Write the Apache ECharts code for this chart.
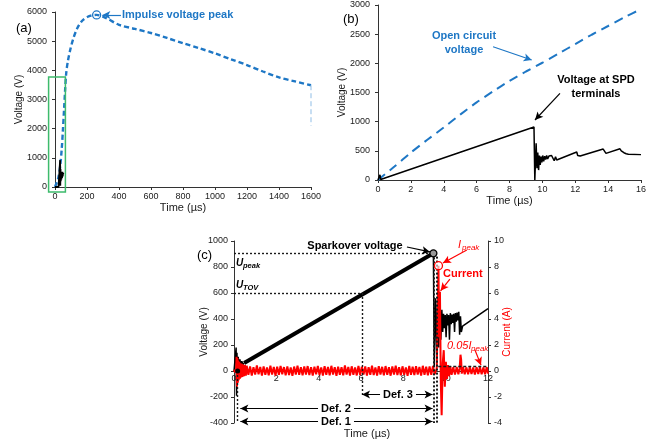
<!DOCTYPE html>
<html>
<head>
<meta charset="utf-8">
<script src="https://cdn.jsdelivr.net/npm/echarts@6/dist/echarts.min.js"></script>
<style>
  html, body { margin: 0; padding: 0; background: #ffffff; }
  #chart { width: 655px; height: 444px; }
</style>
</head>
<body>
<div id="chart"></div>
<script>
// ---------- (a) full impulse, 0-1600 µs ----------
const impulseTimeAxis = [0, 1600, 200];
const impulseVoltAxis = [0, 6000, 1000];
const impulseOpenCircuit = [
  [0, 0], [20, 300], [32, 700], [42, 1300], [50, 2000], [57, 2700], [63, 3300],
  [70, 3900], [80, 4300], [95, 4700], [115, 5100], [140, 5450], [170, 5700],
  [210, 5850], [260, 5900], [320, 5790], [400, 5560], [500, 5420], [600, 5280],
  [700, 5110], [800, 4930], [900, 4760], [1000, 4580], [1100, 4380], [1200, 4180],
  [1300, 3960], [1400, 3760], [1500, 3620], [1600, 3490]
];
const impulseTail = [[1600, 3490], [1600, 2100]];
const impulseSpd = [
  [0, 0], [22, 0], [32, 920], [33, 40], [34.5, 620], [36, 200], [38, 520], [40, 260],
  [42, 500], [44, 310], [46, 520], [48, 360], [50, 470], [54, 440]
];
const impulsePeak = [260, 5900];
const zoomBox = [[-40, 3770], [65, -170]];

// ---------- (b) wave front, 0-16 µs ----------
const frontTimeAxis = [0, 16, 2];
const frontVoltAxis = [0, 3000, 500];
const frontOpenCircuit = [
  [0, 0], [1, 230], [2, 470], [3, 690], [4, 900], [5, 1120], [6, 1330], [7, 1520],
  [8, 1700], [9, 1860], [10, 2010], [11, 2170], [12, 2330], [13, 2490], [14, 2640],
  [15, 2790], [16, 2930]
];
const frontSpd = [
  [0, 0], [0.08, 0], [0.12, 90], [0.16, 10], [0.2, 40], [9.49, 910], [9.52, 900],
  [9.54, 0], [9.62, 630], [9.67, 200], [9.72, 470], [9.77, 170], [9.82, 420],
  [9.87, 260], [9.92, 400], [9.97, 300], [10.02, 420], [10.08, 320], [10.14, 410],
  [10.2, 350], [10.26, 420], [10.32, 360], [10.4, 410], [10.48, 380], [10.56, 420],
  [10.64, 400], [10.72, 330], [10.8, 400], [10.87, 343], [12.09, 480], [12.15, 420],
  [12.25, 390], [12.3, 410], [13.7, 530], [13.78, 500], [13.87, 457], [14.72, 535],
  [14.8, 500], [14.96, 468], [15.1, 450], [15.23, 440], [16, 435]
];

// ---------- (c) sparkover detail, 0-12 µs ----------
const sparkTimeAxis = [0, 12, 2];
const sparkVoltAxis = [-400, 1000, 200];
const sparkAmpAxis = [-4, 10, 2];
const sparkVoltageFront = [
  [0, 0], [0.08, 0], [0.1, 180], [0.12, -190], [0.14, 140], [0.17, -80], [0.2, 110],
  [0.24, 20], [0.28, 90], [0.32, 40], [0.37, 75], [0.42, 50], [0.48, 62]
];
const sparkVoltageRamp = [[0.48, 62], [9.42, 905]];
const sparkVoltageAfter = [
  [9.42, 905], [9.46, 30], [9.52, 560], [9.58, 120], [9.63, 610], [9.67, 180],
  [9.72, 520], [9.77, 240], [9.82, 470], [9.86, 300], [9.9, 440], [9.94, 330],
  [9.98, 430], [10.02, 260], [10.06, 440], [10.1, 350], [10.14, 430], [10.18, 240],
  [10.22, 445], [10.26, 360], [10.3, 435], [10.34, 370], [10.38, 440], [10.42, 300],
  [10.46, 445], [10.5, 380], [10.54, 450], [10.58, 390], [10.62, 455], [10.66, 280],
  [10.7, 420], [10.74, 300], [10.8, 345], [12, 480]
];
const sparkCurrent = [
  [0, 0.1], [0.05, -0.1], [0.1, 0.2], [0.12, 1.1], [0.14, -1.2], [0.16, 1.0], [0.18, -0.9],
  [0.2, 0.8], [0.22, -0.7], [0.25, 0.7], [0.28, -0.6], [0.31, 0.6], [0.34, -0.5],
  [0.37, 0.55], [0.4, -0.45], [0.44, 0.5], [0.48, -0.4], [0.52, 0.45], [0.56, -0.35],
  [0.6, 0.4], [0.68, -0.3], [0.76, 0.35], [0.84, -0.36], [0.92, 0.3], [1.0, -0.28],
  [1.08, 0.42], [1.16, -0.26], [1.24, 0.31], [1.32, -0.35], [1.4, 0.36], [1.48, -0.3],
  [1.56, 0.27], [1.64, -0.33], [1.72, 0.4], [1.8, -0.28], [1.88, 0.31], [1.96, -0.36],
  [2.04, 0.33], [2.12, -0.29], [2.2, 0.38], [2.28, -0.25], [2.36, 0.3], [2.44, -0.34],
  [2.52, 0.36], [2.6, -0.31], [2.68, 0.27], [2.76, -0.37], [2.84, 0.34], [2.92, -0.28],
  [3.0, 0.41], [3.08, -0.3], [3.16, 0.29], [3.24, -0.33], [3.32, 0.35], [3.4, -0.27],
  [3.48, 0.38], [3.56, -0.32], [3.64, 0.3], [3.72, -0.36], [3.8, 0.33], [3.88, -0.26],
  [3.96, 0.39], [4.04, -0.31], [4.12, 0.28], [4.2, -0.35], [4.28, 0.37], [4.36, -0.29],
  [4.44, 0.32], [4.52, -0.34], [4.6, 0.4], [4.68, -0.27], [4.76, 0.3], [4.84, -0.37],
  [4.92, 0.34], [5.0, -0.3], [5.08, 0.29], [5.16, -0.33], [5.24, 0.42], [5.32, -0.28],
  [5.4, 0.31], [5.48, -0.35], [5.56, 0.36], [5.64, -0.29], [5.72, 0.27], [5.8, -0.34],
  [5.88, 0.39], [5.96, -0.31], [6.04, 0.33], [6.12, -0.27], [6.2, 0.35], [6.28, -0.36],
  [6.36, 0.3], [6.44, -0.29], [6.52, 0.41], [6.6, -0.32], [6.68, 0.28], [6.76, -0.35],
  [6.84, 0.37], [6.92, -0.27], [7.0, 0.32], [7.08, -0.34], [7.16, 0.38], [7.24, -0.3],
  [7.32, 0.29], [7.4, -0.36], [7.48, 0.35], [7.56, -0.28], [7.64, 0.4], [7.72, -0.31],
  [7.8, 0.3], [7.88, -0.33], [7.96, 0.36], [8.04, -0.29], [8.12, 0.28], [8.2, -0.37],
  [8.28, 0.39], [8.36, -0.3], [8.44, 0.33], [8.52, -0.32], [8.6, 0.37], [8.68, -0.28],
  [8.76, 0.31], [8.84, -0.35], [8.92, 0.4], [9.0, -0.29], [9.08, 0.34], [9.16, -0.33],
  [9.24, 0.36], [9.32, -0.3], [9.4, 0.38], [9.48, -0.25], [9.58, 0.2], [9.66, 8.1],
  [9.69, 2.6], [9.73, 6.1], [9.77, -0.8], [9.81, -3.4], [9.86, 0.6], [9.91, 1.6],
  [9.96, -1.2], [10.01, 0.7], [10.06, -0.6], [10.11, 0.45], [10.16, -0.4], [10.22, 0.35],
  [10.28, -0.3], [10.36, 0.3], [10.44, -0.28], [10.52, 0.3], [10.6, -0.25], [10.66, 0.2],
  [10.7, 1.25], [10.73, 0.9], [10.76, -0.2], [10.82, 0.3], [10.9, -0.25], [10.98, 0.28],
  [11.06, -0.26], [11.14, 0.3], [11.22, -0.24], [11.3, 0.27], [11.38, -0.27], [11.46, 0.29],
  [11.54, -0.23], [11.62, 0.3], [11.7, -0.26], [11.78, 0.28], [11.86, -0.25], [11.94, 0.3],
  [12.0, -0.2]
];
const sparkoverPoint = [9.42, 905];
const sparkStart = [0.17, 0];
const currentPeak = [9.66, 8.1];
const uTov = [6.05, 600];
const currentThreshold = 0.4;   // 0.05 x Ipeak
const defLevels = { def3: -181, def2: -288, def1: -388 };
const defSpans = { def3: [6.05, 9.38], def2: [0.3, 9.38], def1: [0.3, 9.38] };

// ---------- styling ----------
const FONT = '"Liberation Sans", Arial, Helvetica, sans-serif';
const BLUE = '#1e77c5';
const RED = '#ff0000';
const INK = '#1a1a1a';
const GREEN = '#3dbb6c';

function axisOf(range, gridIndex, extra) {
  const base = {
    type: 'value', gridIndex: gridIndex,
    min: range[0], max: range[1], interval: range[2],
    splitLine: { show: false },
    axisLine: { show: true, onZero: false, lineStyle: { color: '#333', width: 1 } },
    axisTick: { show: true, length: 3, lineStyle: { color: '#333' } },
    axisLabel: { color: INK, fontSize: 9, fontFamily: FONT, margin: 8, formatter: function (v) { return String(v); } },
    nameLocation: 'middle',
    nameTextStyle: { color: INK, fontSize: 10, fontFamily: FONT },
    nameMoveOverlap: false
  };
  for (const k in extra) {
    if (typeof extra[k] === 'object' && !Array.isArray(extra[k]) && base[k]) {
      base[k] = Object.assign({}, base[k], extra[k]);
    } else {
      base[k] = extra[k];
    }
  }
  return base;
}

function arrow(from, to, color, both) {
  return [
    { coord: from, symbol: both ? 'arrow' : 'none', lineStyle: { color: color, width: 1.2, type: 'solid' } },
    { coord: to, symbol: 'arrow' }
  ];
}
function guide(from, to, width) {
  return [
    { coord: from, symbol: 'none', lineStyle: { color: INK, width: width || 1.4, type: [2, 2] } },
    { coord: to, symbol: 'none' }
  ];
}
function ring(coord, color, fill, size) {
  return { coord: coord, symbol: 'circle', symbolSize: size || 8,
    itemStyle: { color: fill, borderColor: color, borderWidth: 1.3 } };
}
const markLineBase = { silent: true, animation: false, symbolSize: [6, 8], label: { show: false } };
const markPointBase = { silent: true, animation: false, label: { show: false } };

// panel (c) time axis sits on the 0 V level
const sparkGridHeight = 182;
const sparkZeroShift = -sparkGridHeight * (0 - sparkVoltAxis[0]) / (sparkVoltAxis[1] - sparkVoltAxis[0]);

const chart = echarts.init(document.getElementById('chart'), null, { renderer: 'canvas' });

const option = {
  backgroundColor: '#ffffff',
  animation: false,
  grid: [
    { left: 55, top: 12, width: 256, height: 175, outerBoundsMode: 'none', containLabel: false },
    { left: 378, top: 5, width: 263, height: 175, outerBoundsMode: 'none', containLabel: false },
    { left: 234, top: 241, width: 254, height: sparkGridHeight, outerBoundsMode: 'none', containLabel: false }
  ],
  xAxis: [
    axisOf(impulseTimeAxis, 0, { name: 'Time (µs)', nameGap: 15, nameTextStyle: { fontSize: 11 }, axisLabel: { margin: 5 } }),
    axisOf(frontTimeAxis, 1, { name: 'Time (µs)', nameGap: 15, nameTextStyle: { fontSize: 11 }, axisLabel: { margin: 5 } }),
    axisOf(sparkTimeAxis, 2, {
      name: 'Time (µs)', nameGap: 57, nameTextStyle: { fontSize: 11, padding: [0, 0, 0, 12] },
      offset: sparkZeroShift,
      axisTick: { show: false }, axisLabel: { margin: 3 }
    })
  ],
  yAxis: [
    axisOf(impulseVoltAxis, 0, { name: 'Voltage (V)', nameGap: 31 }),
    axisOf(frontVoltAxis, 1, { name: 'Voltage (V)', nameGap: 31 }),
    axisOf(sparkVoltAxis, 2, { name: 'Voltage (V)', nameGap: 25, axisLabel: { margin: 6 } }),
    axisOf(sparkAmpAxis, 2, { position: 'right', name: 'Current (A)', nameGap: 14,
      axisLabel: { margin: 6 }, nameTextStyle: { color: RED, fontSize: 10 } })
  ],
  series: [
    {
      name: 'Open circuit voltage (a)', type: 'line', xAxisIndex: 0, yAxisIndex: 0,
      data: impulseOpenCircuit, symbol: 'none', smooth: 0.3,
      lineStyle: { color: BLUE, width: 2.4, type: [5, 3] },
      markPoint: Object.assign({}, markPointBase, { data: [ring(impulsePeak, BLUE, 'rgba(255,255,255,0)', 8)] }),
      markLine: Object.assign({}, markLineBase, { data: [arrow([412, 5898], [296, 5898], BLUE)] })
    },
    {
      name: 'Open circuit voltage tail (a)', type: 'line', xAxisIndex: 0, yAxisIndex: 0,
      data: impulseTail, symbol: 'none',
      lineStyle: { color: '#8fbde6', width: 1, type: [5, 3] }
    },
    {
      name: 'SPD voltage (a)', type: 'line', xAxisIndex: 0, yAxisIndex: 0,
      data: impulseSpd, symbol: 'none', lineStyle: { color: '#000', width: 1.8 }
    },
    {
      name: 'Open circuit voltage (b)', type: 'line', xAxisIndex: 1, yAxisIndex: 1,
      data: frontOpenCircuit, symbol: 'none', smooth: 0.2,
      lineStyle: { color: BLUE, width: 2, type: [9, 6] },
      markLine: Object.assign({}, markLineBase, { data: [arrow([7.0, 2285], [9.35, 2057], BLUE)] })
    },
    {
      name: 'SPD voltage (b)', type: 'line', xAxisIndex: 1, yAxisIndex: 1,
      data: frontSpd, symbol: 'none', lineStyle: { color: '#000', width: 1.5 },
      markLine: Object.assign({}, markLineBase, { data: [arrow([11.07, 1486], [9.55, 1029], '#000')] })
    },
    {
      name: 'SPD voltage front (c)', type: 'line', xAxisIndex: 2, yAxisIndex: 2,
      data: sparkVoltageFront, symbol: 'none', lineStyle: { color: '#000', width: 1.5 }
    },
    {
      name: 'SPD voltage ramp (c)', type: 'line', xAxisIndex: 2, yAxisIndex: 2,
      data: sparkVoltageRamp, symbol: 'none', lineStyle: { color: '#000', width: 4 },
      markLine: Object.assign({}, markLineBase, {
        data: [
          guide([0, sparkoverPoint[1]], sparkoverPoint),
          guide([0, uTov[1]], uTov),
          guide(uTov, [uTov[0], defLevels.def3 - 10]),
          guide([9.46, sparkoverPoint[1]], [9.46, -400], 2),
          guide([9.57, 880], [9.57, -400], 2),
          guide([0.13, 0], [0.13, -400], 1.4),
          arrow([defSpans.def3[0], defLevels.def3], [defSpans.def3[1], defLevels.def3], '#000', true),
          arrow([defSpans.def2[0], defLevels.def2], [defSpans.def2[1], defLevels.def2], '#000', true),
          arrow([defSpans.def1[0], defLevels.def1], [defSpans.def1[1], defLevels.def1], '#000', true),
          arrow([8.17, 954], [9.26, 916], '#000')
        ]
      }),
      markPoint: Object.assign({}, markPointBase, {
        data: [ring(sparkoverPoint, '#000', '#999', 7),
               { coord: sparkStart, symbol: 'circle', symbolSize: 5, itemStyle: { color: '#000' } }]
      })
    },
    {
      name: 'SPD voltage after sparkover (c)', type: 'line', xAxisIndex: 2, yAxisIndex: 2,
      data: sparkVoltageAfter, symbol: 'none', lineStyle: { color: '#000', width: 1.5 }
    },
    {
      name: 'Current (c)', type: 'line', xAxisIndex: 2, yAxisIndex: 3,
      data: sparkCurrent, symbol: 'none', lineStyle: { color: RED, width: 2 },
      markLine: Object.assign({}, markLineBase, {
        data: [
          [{ coord: [9.65, currentThreshold], symbol: 'none', lineStyle: { color: INK, width: 1.4, type: [3, 2] } },
           { coord: [12, currentThreshold], symbol: 'none' }],
          arrow([11.0, 9.31], [9.87, 8.31], RED),
          arrow([10.2, 7.06], [9.76, 6.17], RED),
          arrow([11.38, 1.64], [11.67, 0.45], RED)
        ]
      }),
      markPoint: Object.assign({}, markPointBase, { data: [ring(currentPeak, RED, 'rgba(255,255,255,0.6)', 8)] })
    }
  ]
};
chart.setOption(option);

// ---------- text annotations ----------
function txt(text, x, y, font, fill, align, extra) {
  return {
    type: 'text', x: x, y: y, z: 100, silent: true,
    style: Object.assign({ text: text, font: font + ' ' + FONT, fill: fill, align: align || 'left', verticalAlign: 'middle' }, extra || {})
  };
}
const B11 = 'bold 11px';
const labels = [
  txt('(a)', 16, 28, '13px', '#000'),
  txt('(b)', 343, 19, '13px', '#000'),
  txt('(c)', 197, 255, '13px', '#000'),
  txt('Impulse voltage peak', 122, 15, B11, BLUE),
  txt('Open circuit', 464, 36, B11, BLUE, 'center'),
  txt('voltage', 464, 50, B11, BLUE, 'center'),
  txt('Voltage at SPD', 596, 80, B11, '#000', 'center'),
  txt('terminals', 596, 94, B11, '#000', 'center'),
  txt('Sparkover voltage', 355, 246, B11, '#000', 'center'),
  txt('U', 236, 263, 'italic bold 10px', '#000'),
  txt('peak', 243, 266, 'italic bold 7.5px', '#000'),
  txt('U', 236, 285, 'italic bold 10px', '#000'),
  txt('TOV', 243, 288, 'italic bold 7.5px', '#000'),
  txt('I', 458, 245, 'italic 11px', RED),
  txt('peak', 462, 248, 'italic 8px', RED),
  txt('Current', 443, 274, B11, RED),
  txt('0.05I', 447, 346, 'italic 11px', RED),
  txt('peak', 471, 349, 'italic 8px', RED),
  txt('Def. 3', 398, 395, B11, '#000', 'center', { backgroundColor: '#fff', padding: [0, 3] }),
  txt('Def. 2', 336, 409, B11, '#000', 'center', { backgroundColor: '#fff', padding: [0, 3] }),
  txt('Def. 1', 336, 422, B11, '#000', 'center', { backgroundColor: '#fff', padding: [0, 3] })
];

// green frame around the first 50 µs in panel (a)
const p0 = chart.convertToPixel({ gridIndex: 0 }, zoomBox[0]);
const p1 = chart.convertToPixel({ gridIndex: 0 }, zoomBox[1]);
labels.push({
  type: 'rect', z: 90, silent: true,
  shape: { x: Math.min(p0[0], p1[0]), y: Math.min(p0[1], p1[1]), width: Math.abs(p1[0] - p0[0]), height: Math.abs(p1[1] - p0[1]) },
  style: { fill: 'rgba(0,0,0,0)', stroke: GREEN, lineWidth: 1.5 }
});

chart.setOption({ graphic: labels });
</script>
</body>
</html>
